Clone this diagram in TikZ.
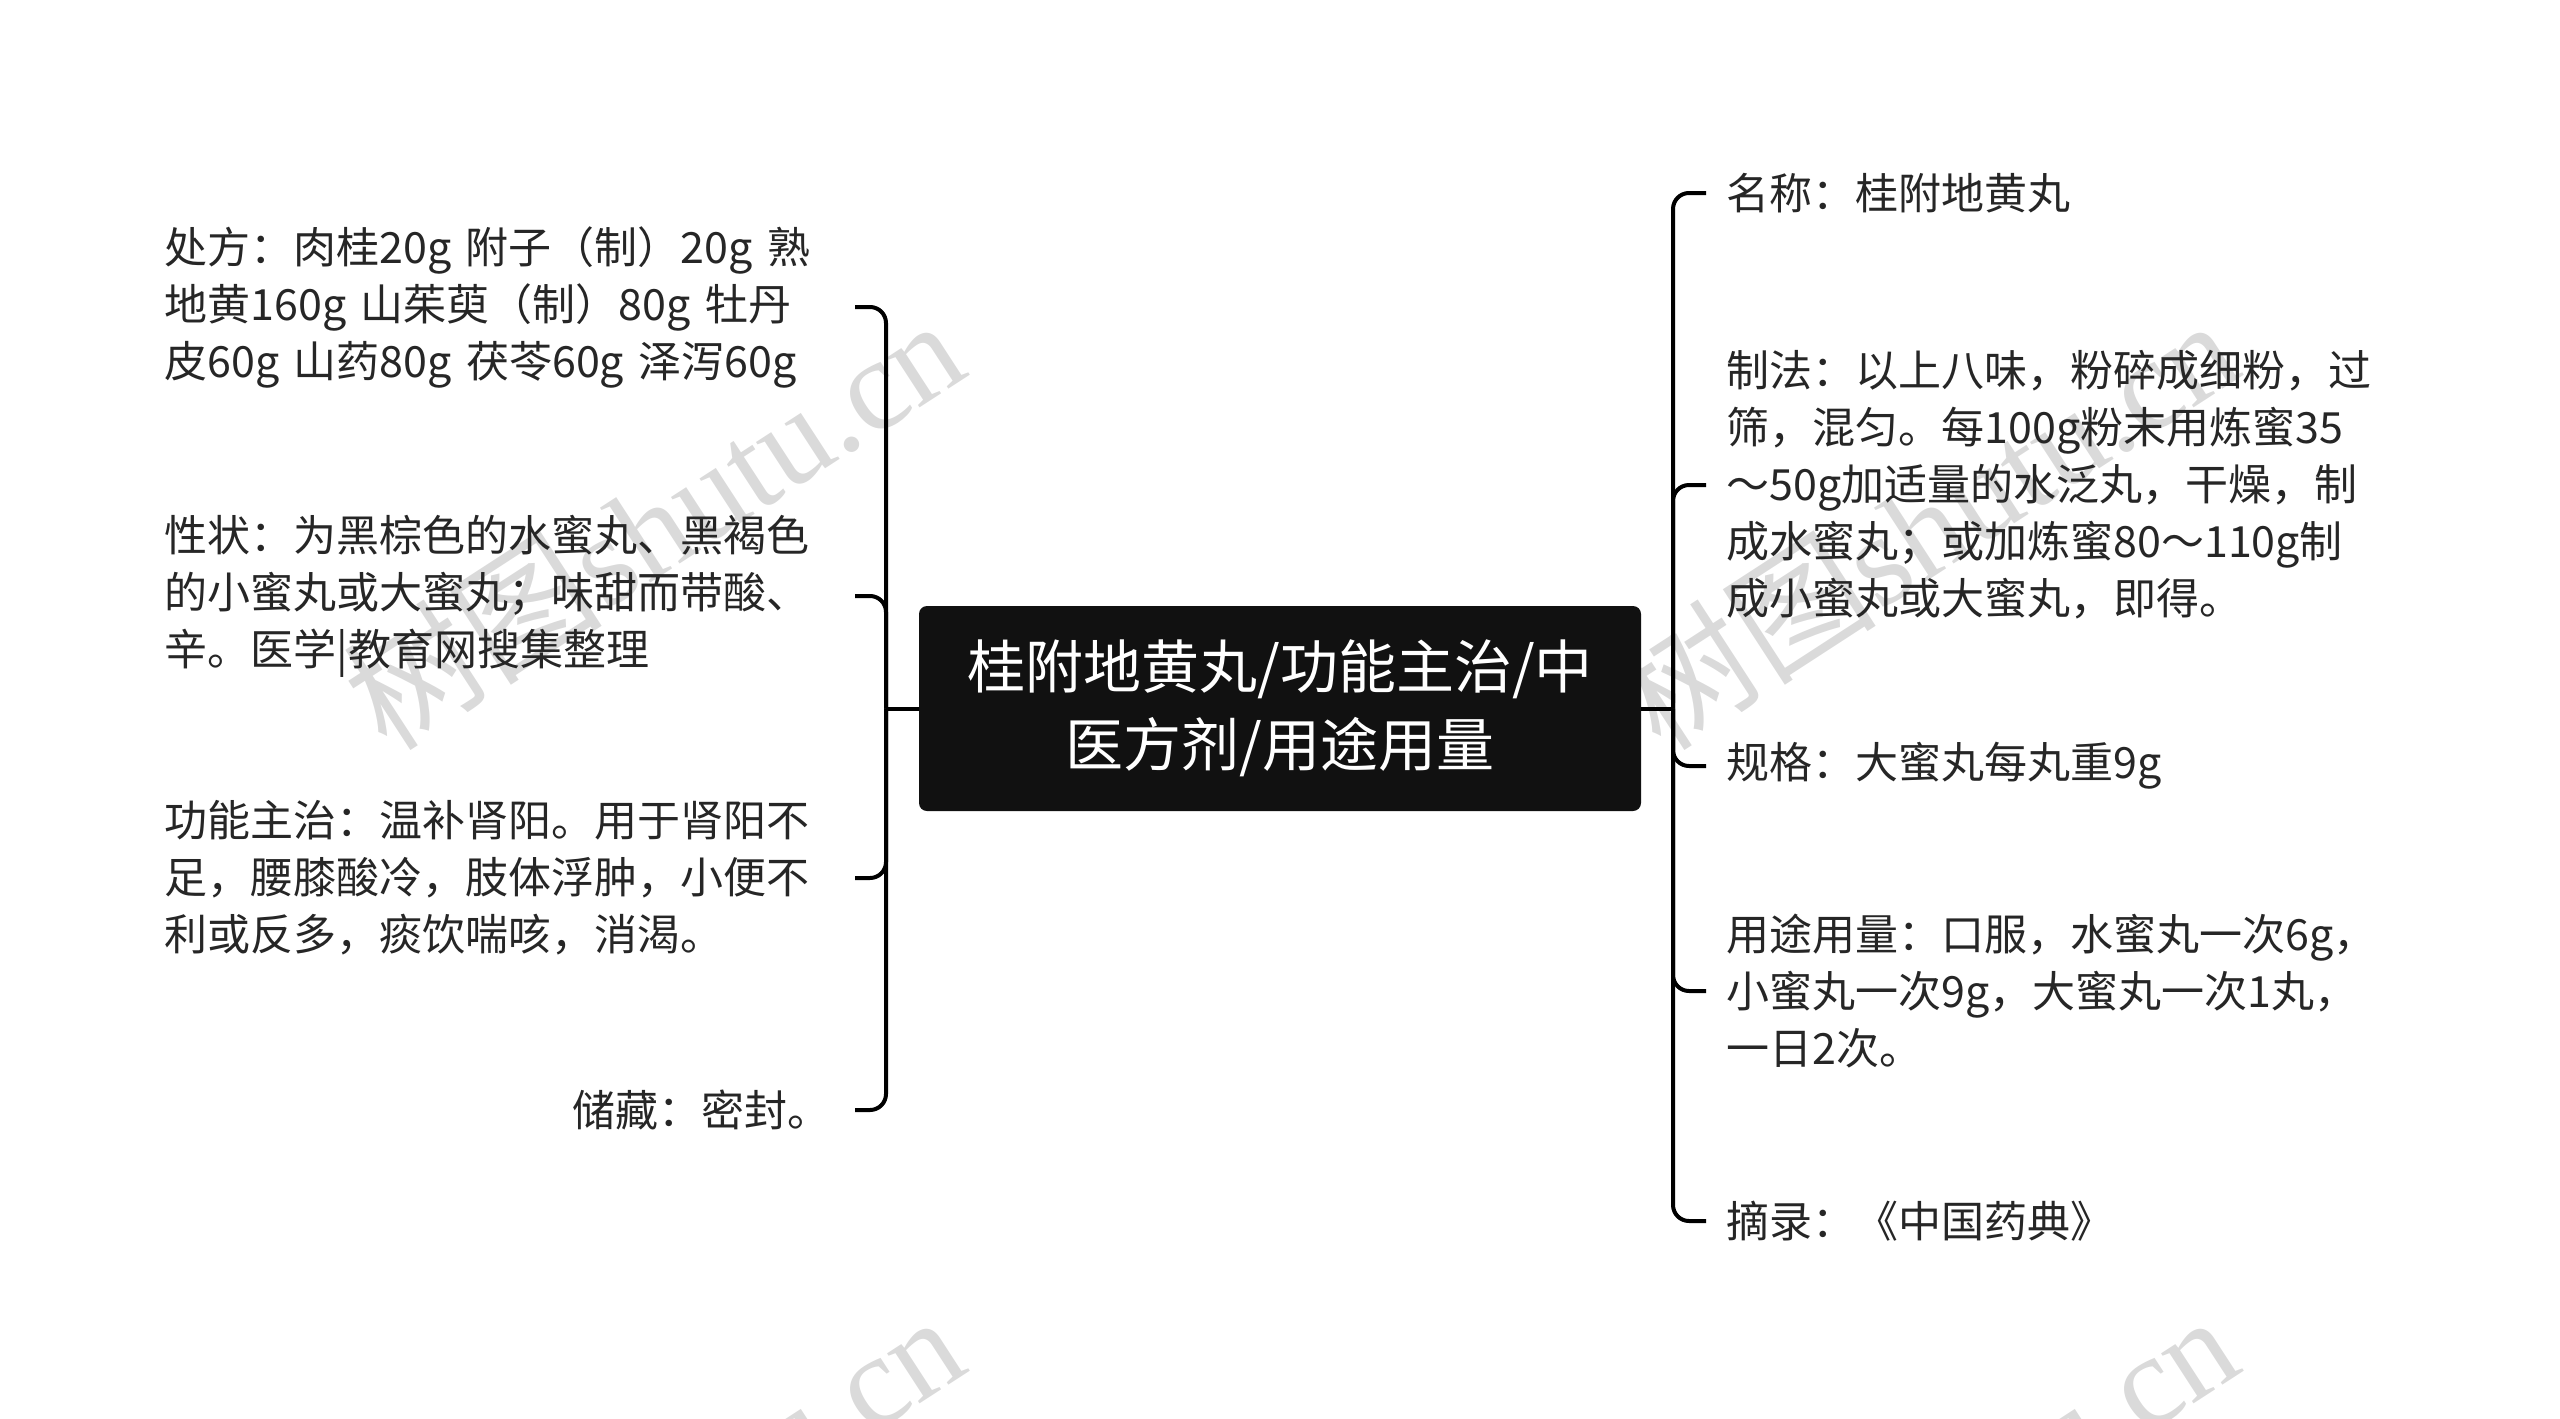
\documentclass[tikz,border=0pt]{standalone}
\usepackage{fontspec}
\setmainfont{Noto Sans CJK SC}
\newfontfamily\wmserif{Liberation Serif}
\newfontfamily\wmcjk{Noto Sans CJK SC}
\definecolor{txt}{HTML}{262626}
\definecolor{boxfill}{HTML}{111111}
\definecolor{wmc}{RGB}{218,218,218}
\begin{document}
\begin{tikzpicture}[x=0.5pt,y=-0.5pt,
  conn/.style={line width=2pt, draw=black, rounded corners=8pt},
  stub/.style={line width=2pt, draw=black},
  root/.style={fill=boxfill, text=white, rounded corners=4pt, minimum width=361pt,
    minimum height=102.5pt, align=center, font=\fontsize{29}{39}\selectfont, inner sep=0pt},
  leftnode/.style={anchor=east, align=left, text=txt, font=\fontsize{21.5}{28.5}\selectfont,
    inner xsep=12pt, inner ysep=4pt},
  leftwide/.style={leftnode, text width=333pt},
  rightnode/.style={anchor=west, align=left, text=txt, font=\fontsize{21.5}{28.5}\selectfont,
    inner xsep=10pt, inner ysep=4pt},
  wmark/.style={text=wmc, rotate=33, font=\fontsize{65}{70}\selectfont, inner sep=0pt}
]
\useasboundingbox (0,0) rectangle (2560,1419);
\begin{scope}
  \clip (0,0) rectangle (2560,1419);
  \node[wmark] (w1) at (653,522) {{\wmcjk 树图}{\wmserif shutu.cn}};
  \node[wmark] (w2) at (1927,522) {{\wmcjk 树图}{\wmserif shutu.cn}};
  \node[wmark] (w3) at (653,1518) {{\wmcjk 树图}{\wmserif shutu.cn}};
  \node[wmark] (w4) at (1927,1518) {{\wmcjk 树图}{\wmserif shutu.cn}};
\end{scope}

\node[root] (c) at (1280,708.5) {桂附地黄丸/功能主治/中\\医方剂/用途用量};

\node[leftwide] (l1) at (855,307) {处方：肉桂20g 附子（制）20g 熟\\地黄160g 山茱萸（制）80g 牡丹\\皮60g 山药80g 茯苓60g 泽泻60g};
\node[leftwide] (l2) at (855,596) {性状：为黑棕色的水蜜丸、黑褐色\\的小蜜丸或大蜜丸；味甜而带酸、\\辛。医学|教育网搜集整理};
\node[leftwide] (l3) at (855,878) {功能主治：温补肾阳。用于肾阳不\\足，腰膝酸冷，肢体浮肿，小便不\\利或反多，痰饮喘咳，消渴。};
\node[leftnode] (l4) at (855,1110) {储藏：密封。};

\node[rightnode] (r1) at (1706,193) {名称：桂附地黄丸};
\node[rightnode] (r2) at (1706,485) {制法：以上八味，粉碎成细粉，过\\筛，混匀。每100g粉末用炼蜜35\\～50g加适量的水泛丸，干燥，制\\成水蜜丸；或加炼蜜80～110g制\\成小蜜丸或大蜜丸，即得。};
\node[rightnode] (r3) at (1706,766) {规格：大蜜丸每丸重9g};
\node[rightnode] (r4) at (1706,991) {用途用量：口服，水蜜丸一次6g，\\小蜜丸一次9g，大蜜丸一次1丸，\\一日2次。};
\node[rightnode] (r5) at (1706,1221) {摘录：《中国药典》};

\coordinate (jl) at (886,708.5);
\coordinate (jr) at (1673,708.5);
\draw[stub] (c.west) -- (jl);
\draw[stub] (c.east) -- (jr);
\foreach \n in {l1,l2,l3,l4} \draw[conn] (jl) |- (\n.east);
\foreach \n in {r1,r2,r3,r4,r5} \draw[conn] (jr) |- (\n.west);
\end{tikzpicture}
\end{document}
